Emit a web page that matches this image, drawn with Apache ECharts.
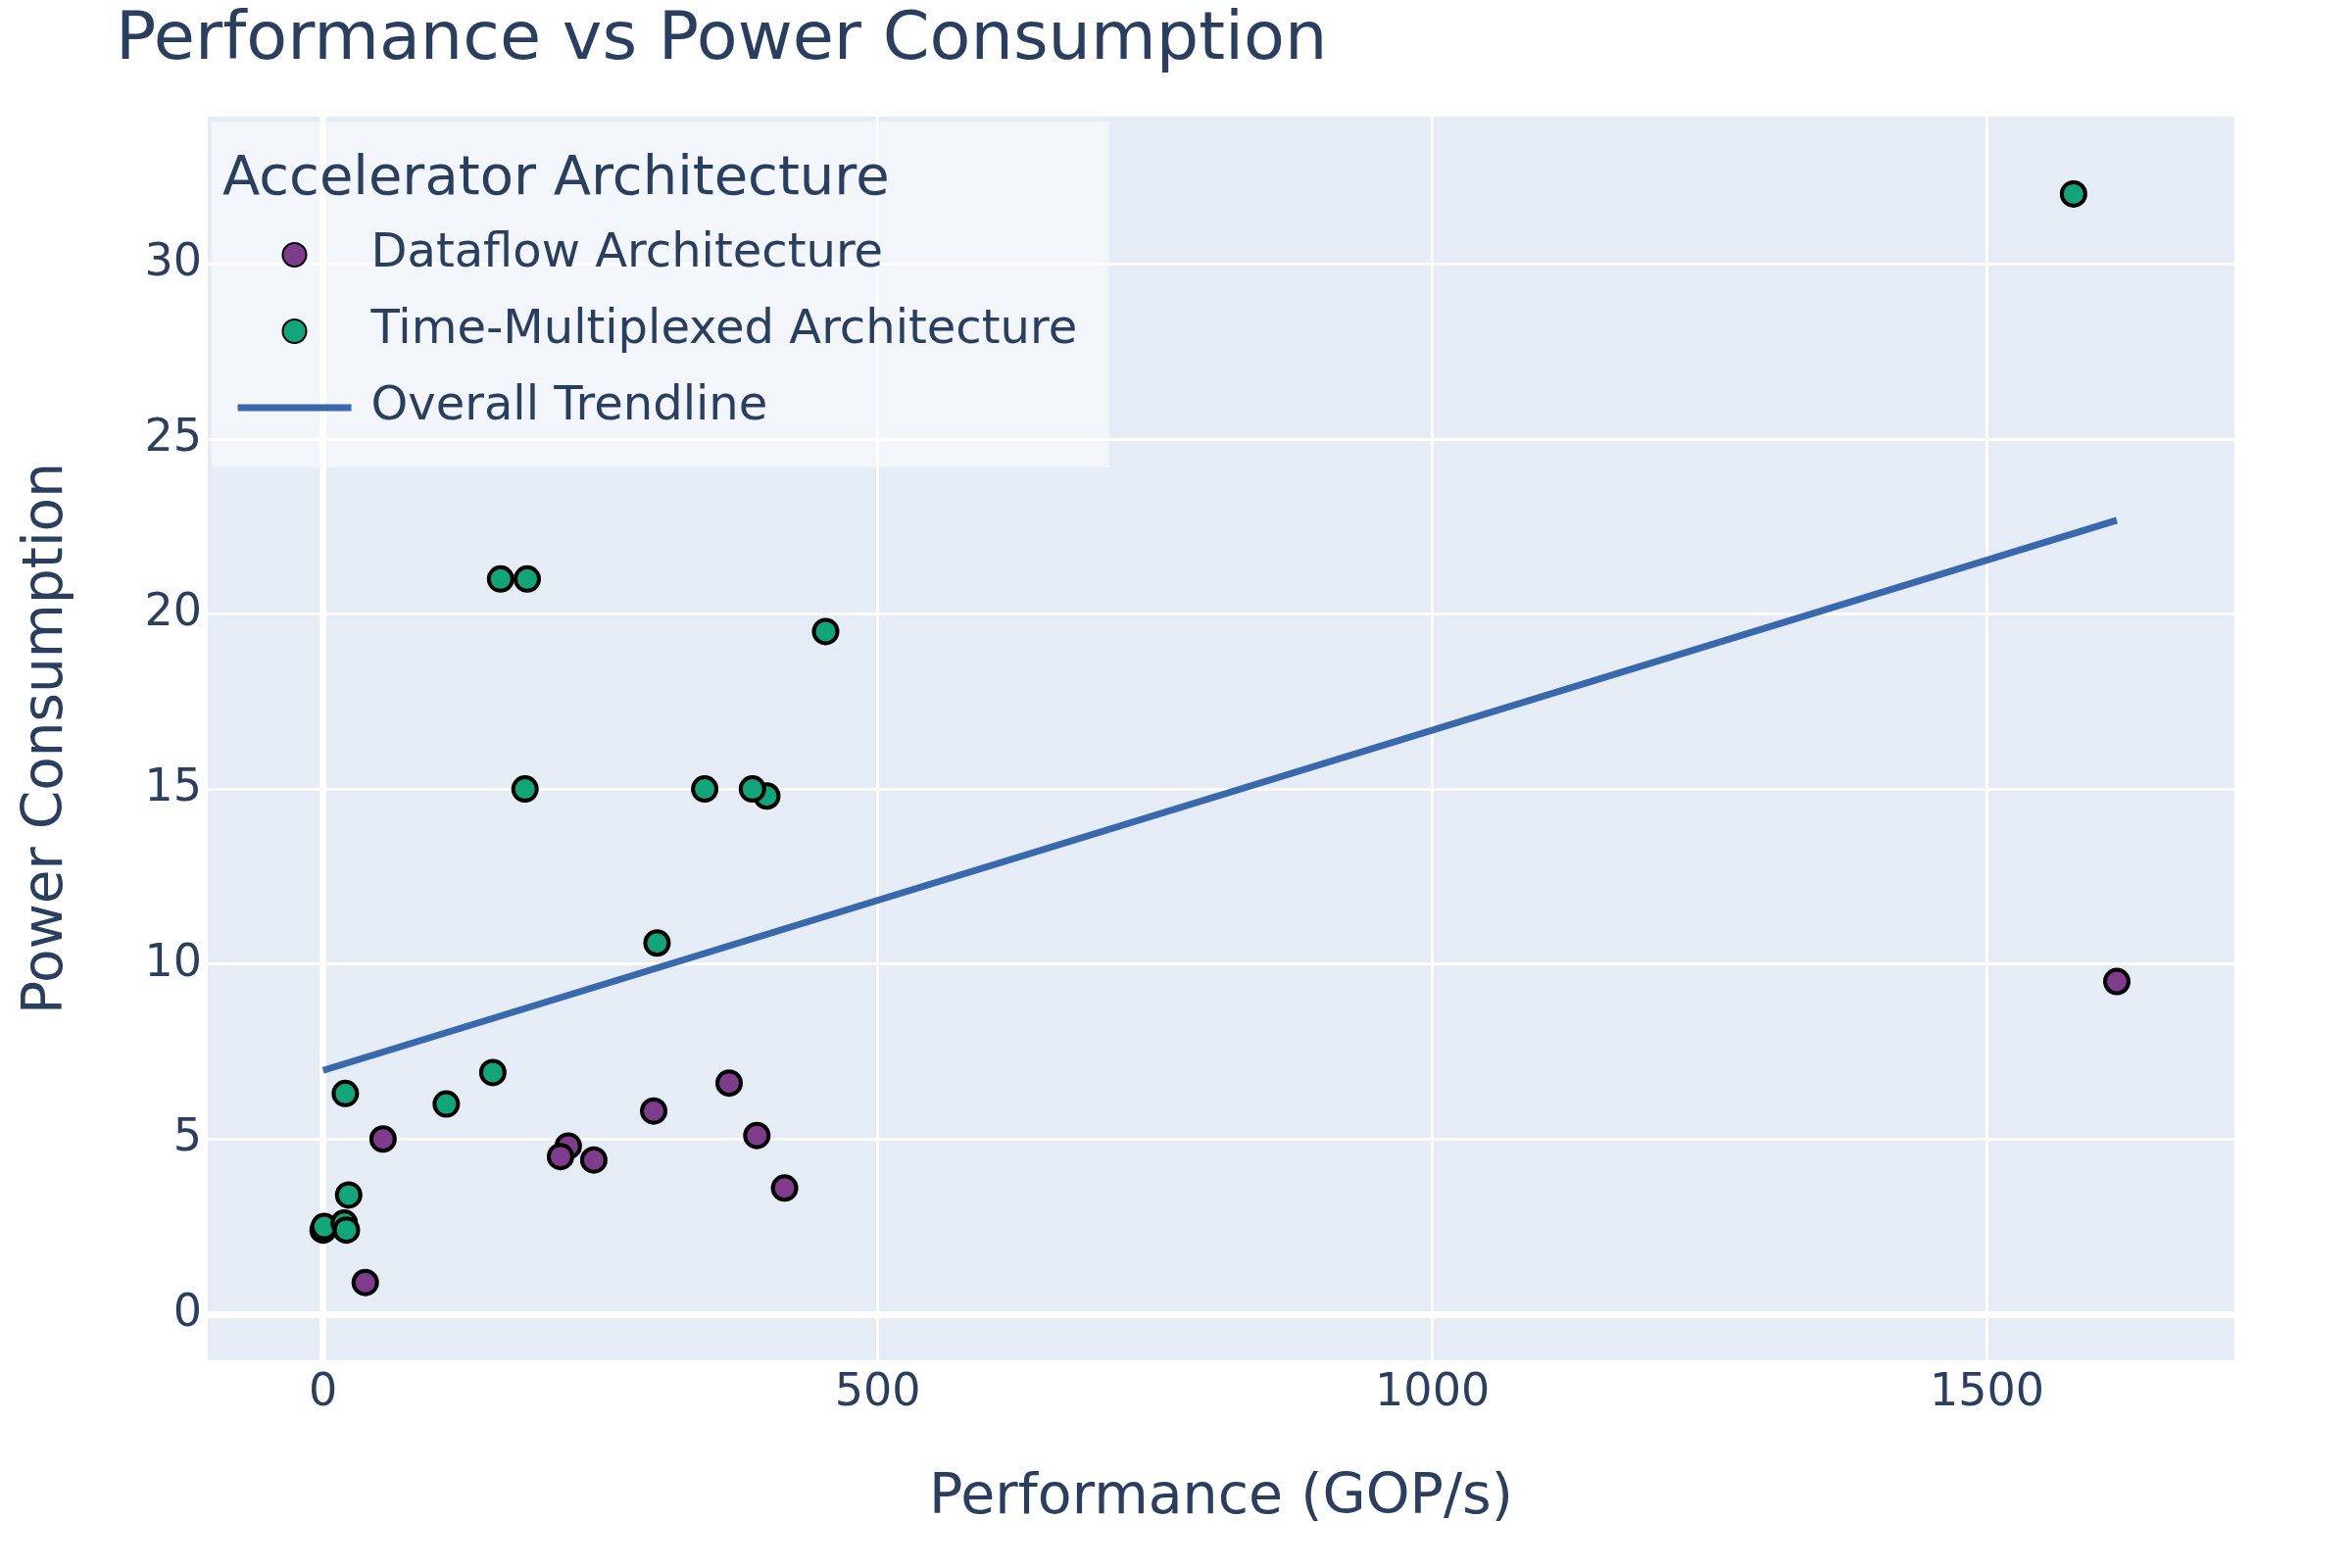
<!DOCTYPE html>
<html>
<head>
<meta charset="utf-8">
<script src="https://cdn.jsdelivr.net/npm/echarts@6/dist/echarts.min.js"></script>
<style>
  html, body { margin: 0; padding: 0; background: #ffffff; }
  #chart { width: 2400px; height: 1600px; }
</style>
</head>
<body>
<div id="chart"></div>
<script>
// ---- Data ----
const dataflowX = [1617, 54, 38, 221, 214, 244, 298, 366, 391, 416];
const dataflowY = [9.5, 5.0, 0.9, 4.8, 4.5, 4.4, 5.8, 6.6, 5.1, 3.6];

const timeMuxX = [1578, 160, 184, 453, 182, 344, 400, 387, 301, 153, 111, 20, 23, 0, 1, 19, 21];
const timeMuxY = [32, 21, 21, 19.5, 15, 15, 14.8, 15, 10.6, 6.9, 6.0, 6.3, 3.4, 2.4, 2.5, 2.6, 2.4];

const trendX = [0, 1617];
const trendY = [6.96, 22.68];

const xTicks = [0, 500, 1000, 1500];
const yTicks = [0, 5, 10, 15, 20, 25, 30];

const seriesNames = ['Dataflow Architecture', 'Time-Multiplexed Architecture', 'Overall Trendline'];

// ---- Build ----
const zip = (xs, ys) => xs.map((x, i) => [x, ys[i]]);
const FONT = 'DejaVu Sans';
const TXT = '#2a3f5f';

const chart = echarts.init(document.getElementById('chart'), null, { renderer: 'canvas' });

chart.setOption({
  animation: false,
  backgroundColor: '#ffffff',
  textStyle: { fontFamily: FONT, color: TXT },
  title: [
    {
      text: 'Performance vs Power Consumption',
      left: 118, top: 8, padding: 0,
      textStyle: { fontFamily: FONT, fontSize: 68.5, fontWeight: 'normal', color: TXT }
    },
    {
      text: 'Accelerator Architecture',
      left: 227, top: 155, padding: 0, z: 10,
      textStyle: { fontFamily: FONT, fontSize: 56, fontWeight: 'normal', color: TXT }
    }
  ],
  legend: {
    orient: 'vertical',
    left: 216, top: 124,
    padding: [112, 33, 37, 23],
    itemGap: 30,
    itemWidth: 116,
    itemHeight: 24,
    backgroundColor: 'rgba(255,255,255,0.5)',
    data: [
      { name: seriesNames[0] },
      { name: seriesNames[1] },
      { name: seriesNames[2], itemStyle: { opacity: 0 }, lineStyle: { width: 7, color: '#3969AC' } }
    ],
    textStyle: { fontFamily: FONT, fontSize: 48, color: TXT, padding: [0, 0, 0, 15] }
  },
  grid: { left: 212, right: 120, top: 119, bottom: 212, containLabel: false,
          show: true, backgroundColor: '#E5ECF6', borderWidth: 0 },
  xAxis: {
    type: 'value',
    min: -104, max: 1723,
    name: 'Performance (GOP/s)',
    nameLocation: 'middle',
    nameGap: 113,
    nameTextStyle: { fontFamily: FONT, fontSize: 57, color: TXT },
    axisLine: { show: false },
    axisTick: { show: false, customValues: xTicks },
    axisLabel: { customValues: xTicks, formatter: v => String(v),
                 fontFamily: FONT, fontSize: 46, color: TXT, margin: 11 },
    splitLine: { show: true, lineStyle: { color: '#ffffff', width: 3 } }
  },
  yAxis: {
    type: 'value',
    min: -1.32, max: 34.21,
    name: 'Power Consumption',
    nameLocation: 'middle',
    nameGap: 135,
    nameTextStyle: { fontFamily: FONT, fontSize: 56.5, color: TXT },
    axisLine: { show: false },
    axisTick: { show: false, customValues: yTicks },
    axisLabel: { customValues: yTicks, formatter: v => String(v),
                 fontFamily: FONT, fontSize: 46, color: TXT, margin: 6 },
    splitLine: { show: true, lineStyle: { color: '#ffffff', width: 3 } }
  },
  series: [
    {
      name: seriesNames[0],
      type: 'scatter',
      data: zip(dataflowX, dataflowY),
      symbol: 'circle',
      symbolSize: 24,
      itemStyle: { color: '#7F3C8D', borderColor: '#000000', borderWidth: 4, opacity: 1 },
      markLine: {
        silent: true, symbol: 'none', z: 1,
        label: { show: false },
        lineStyle: { color: '#ffffff', width: 7, type: 'solid' },
        data: [{ xAxis: 0 }, { yAxis: 0 }]
      }
    },
    {
      name: seriesNames[1],
      type: 'scatter',
      data: zip(timeMuxX, timeMuxY),
      symbol: 'circle',
      symbolSize: 24,
      itemStyle: { color: '#11A579', borderColor: '#000000', borderWidth: 4, opacity: 1 }
    },
    {
      name: seriesNames[2],
      type: 'line',
      data: zip(trendX, trendY),
      symbol: 'none',
      showSymbol: false,
      lineStyle: { color: '#3969AC', width: 7 },
      itemStyle: { color: '#3969AC' }
    }
  ]
});
</script>
</body>
</html>
